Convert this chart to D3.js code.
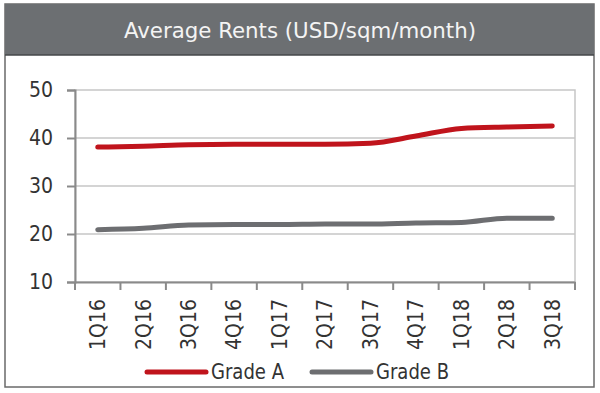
<!DOCTYPE html>
<html>
<head>
<meta charset="UTF-8">
<title>Average Rents</title>
<script src="https://cdn.jsdelivr.net/npm/d3@7"></script>
<style>
  body { margin: 0; background: #fff; }
  text { font-family: "DejaVu Sans Condensed", "Liberation Sans Narrow", sans-serif; }
</style>
</head>
<body>
<svg id="chart" width="600" height="393"></svg>
<script>
// data
var quarters = ["1Q16", "2Q16", "3Q16", "4Q16", "1Q17", "2Q17", "3Q17", "4Q17", "1Q18", "2Q18", "3Q18"];
var gradeA = [38.1, 38.3, 38.6, 38.7, 38.7, 38.7, 38.9, 40.4, 42.0, 42.3, 42.5];
var gradeB = [20.9, 21.2, 21.9, 22.0, 22.0, 22.1, 22.1, 22.3, 22.4, 23.3, 23.3];
var yTicks = [10, 20, 30, 40, 50];
var seriesNames = ["Grade A", "Grade B"];
var seriesColors = ["#c0141c", "#6d6e71"];

var fontStack = "'DejaVu Sans Condensed', 'Liberation Sans Narrow', sans-serif";
var svg = d3.select("#chart");

// outer frame + header band
svg.append("rect")
    .attr("x", 5).attr("y", 4)
    .attr("width", 589).attr("height", 383)
    .attr("fill", "#fff")
    .attr("stroke", "#6a6a6a")
    .attr("stroke-width", 1.5);

svg.append("rect")
    .attr("x", 5).attr("y", 4)
    .attr("width", 589).attr("height", 51)
    .attr("fill", "#6c6f72");

svg.append("line")
    .attr("x1", 5).attr("x2", 594)
    .attr("y1", 55).attr("y2", 55)
    .attr("stroke", "#45474a")
    .attr("stroke-width", 1.5);

svg.append("text")
    .text("Average Rents (USD/sqm/month)")
    .attr("x", 124).attr("y", 38)
    .attr("textLength", 352)
    .attr("lengthAdjust", "spacingAndGlyphs")
    .attr("fill", "#f4f4f4")
    .style("font-size", "22px");

// plot area
var plotLeft = 75, plotRight = 575, plotTop = 90, plotBottom = 282;

var x = d3.scaleBand().domain(quarters).range([plotLeft, plotRight]);
var y = d3.scaleLinear().domain([10, 50]).range([plotBottom, plotTop]);

// plot border + gridlines
svg.append("rect")
    .attr("x", plotLeft).attr("y", plotTop)
    .attr("width", plotRight - plotLeft).attr("height", plotBottom - plotTop)
    .attr("fill", "none")
    .attr("stroke", "#c6c6c6")
    .attr("stroke-width", 1.5);

svg.append("g").selectAll("line")
    .data(yTicks.slice(1, -1))
    .join("line")
    .attr("x1", plotLeft).attr("x2", plotRight)
    .attr("y1", function (d) { return y(d); })
    .attr("y2", function (d) { return y(d); })
    .attr("stroke", "#c6c6c6")
    .attr("stroke-width", 1.5);

// y axis
var yAxis = svg.append("g")
    .attr("transform", "translate(" + plotLeft + ",0)")
    .call(d3.axisLeft(y).tickValues(yTicks).tickSize(8).tickPadding(14));
yAxis.select(".domain").attr("stroke", "#8a8a8a").attr("stroke-width", 2);
yAxis.selectAll(".tick line").attr("stroke", "#8a8a8a").attr("stroke-width", 2);
yAxis.selectAll(".tick text")
    .attr("fill", "#333")
    .style("font-size", "21px")
    .style("font-family", fontStack);

// x axis: ticks at the band edges
var xAxis = svg.append("g")
    .attr("transform", "translate(0," + plotBottom + ")")
    .call(d3.axisBottom(x).tickSize(0).tickPadding(0));
xAxis.select(".domain").attr("stroke", "#8a8a8a").attr("stroke-width", 2);
xAxis.selectAll(".tick text")
    .attr("transform", "rotate(-90)")
    .attr("x", -17).attr("y", 0)
    .attr("dy", "0.35em")
    .attr("text-anchor", "end")
    .attr("fill", "#333")
    .style("font-size", "21px")
    .style("font-family", fontStack);

var edges = quarters.map(function (q) { return x(q); }).concat([plotRight]);
svg.append("g").selectAll("line")
    .data(edges)
    .join("line")
    .attr("x1", function (d) { return d; })
    .attr("x2", function (d) { return d; })
    .attr("y1", plotBottom).attr("y2", plotBottom + 8)
    .attr("stroke", "#8a8a8a")
    .attr("stroke-width", 2);

// lines
var line = d3.line()
    .x(function (d, i) { return x(quarters[i]) + x.bandwidth() / 2; })
    .y(function (d) { return y(d); })
    .curve(d3.curveMonotoneX);

[gradeA, gradeB].forEach(function (values, i) {
    svg.append("path")
        .datum(values)
        .attr("d", line)
        .attr("fill", "none")
        .attr("stroke", seriesColors[i])
        .attr("stroke-width", 5)
        .attr("stroke-linecap", "round")
        .attr("stroke-linejoin", "round");
});

// legend
var legendX = [147, 312];
var legendTextW = [73, 73];
seriesNames.forEach(function (name, i) {
    var g = svg.append("g").attr("transform", "translate(" + legendX[i] + ",372)");
    g.append("line")
        .attr("x1", 0).attr("x2", 59)
        .attr("y1", 0).attr("y2", 0)
        .attr("stroke", seriesColors[i])
        .attr("stroke-width", 5)
        .attr("stroke-linecap", "round");
    g.append("text")
        .text(name)
        .attr("x", 64).attr("y", 7)
        .attr("textLength", legendTextW[i])
        .attr("lengthAdjust", "spacingAndGlyphs")
        .attr("fill", "#333")
        .style("font-size", "21px");
});
</script>
</body>
</html>
